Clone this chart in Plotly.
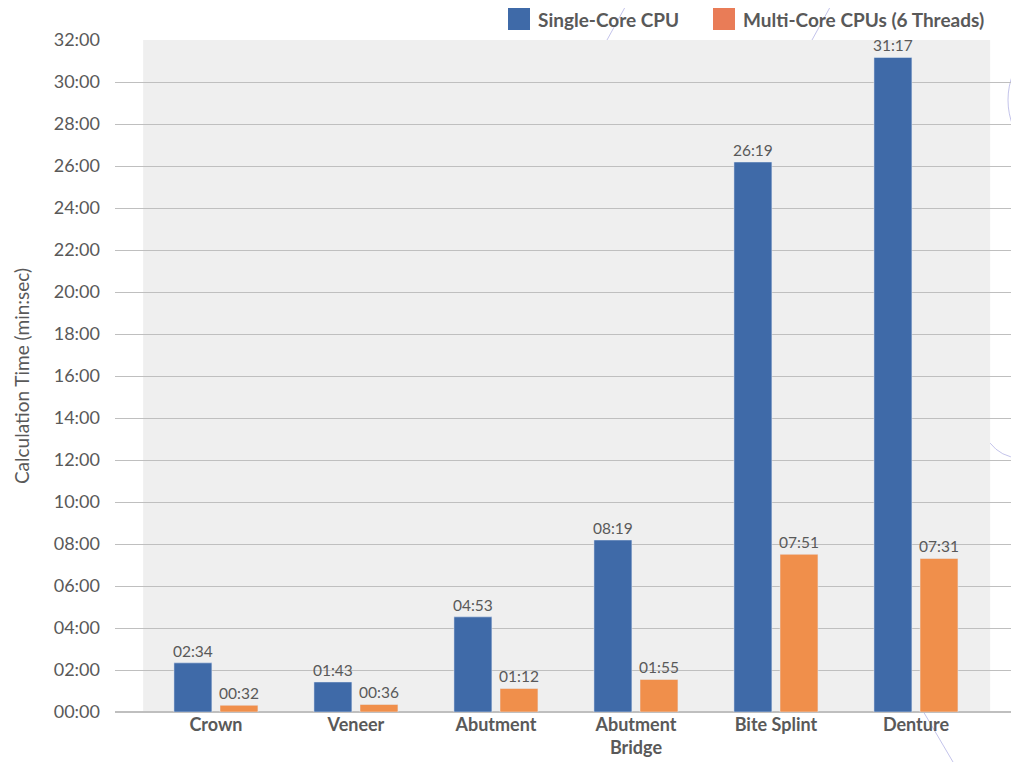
import plotly.graph_objects as go

categories = ["Crown", "Veneer", "Abutment", "Abutment<br>Bridge", "Bite Splint", "Denture"]
single_core = [2.34, 1.43, 4.53, 8.19, 26.19, 31.17]
multi_core = [0.32, 0.36, 1.12, 1.55, 7.51, 7.31]
single_labels = ["02:34", "01:43", "04:53", "08:19", "26:19", "31:17"]
multi_labels = ["00:32", "00:36", "01:12", "01:55", "07:51", "07:31"]
tick_vals = [0, 2, 4, 6, 8, 10, 12, 14, 16, 18, 20, 22, 24, 26, 28, 30, 32]
tick_text = ["00:00", "02:00", "04:00", "06:00", "08:00", "10:00", "12:00", "14:00",
             "16:00", "18:00", "20:00", "22:00", "24:00", "26:00", "28:00", "30:00", "32:00"]
series_names = ["Single-Core CPU", "Multi-Core CPUs (6 Threads)"]

BLUE = "#3F6AA8"
ORANGE = "#F08F4B"
LEG_ORANGE = "#E97C57"
TXT = "#595959"
FONT = "Lato"

# page-pixel -> paper helpers (plot area: x 115..1019, y 40..712 on the page)
def px(x):
    return (x - 115) / 904

def py(y):
    return (712 - y) / 672

fig = go.Figure()
fig.add_trace(go.Bar(
    x=categories, y=single_core, name=series_names[0], marker_color=BLUE,
    width=0.271, offset=-0.3, text=single_labels, textposition="outside",
    constraintext="none", cliponaxis=False,
    textfont=dict(size=15.5, color=TXT, family=FONT),
))
fig.add_trace(go.Bar(
    x=categories, y=multi_core, name=series_names[1], marker_color=ORANGE,
    width=0.271, offset=0.029, text=multi_labels, textposition="outside",
    constraintext="none", cliponaxis=False,
    textfont=dict(size=15.5, color=TXT, family=FONT),
))

# gray plot background panel
fig.add_shape(type="rect", xref="x", yref="y", x0=-0.52, x1=5.53, y0=0, y1=32,
              fillcolor="#EFEFEF", line_width=0, layer="below")

# decorative light lines
deco = "rgba(185,185,230,0.85)"
for (xa, ya, xb, yb) in [(629, 0, 607, 40), (834, 0, 812, 40), (923, 711, 953, 762)]:
    fig.add_shape(type="line", xref="paper", yref="paper", x0=px(xa), y0=py(ya),
                  x1=px(xb), y1=py(yb), line=dict(color=deco, width=1), layer="below")
fig.add_shape(type="circle", xref="paper", yref="paper",
              x0=px(1008), x1=px(1150), y0=py(171), y1=py(29),
              line=dict(color=deco, width=1), layer="below")
fig.add_shape(type="path", xref="paper", yref="paper",
              path="M %f,%f Q %f,%f %f,%f" % (px(990), py(443), px(1001), py(457), px(1019), py(458)),
              line=dict(color=deco, width=1), layer="below")

# legend (manual)
for xs, col, name in [(508, BLUE, series_names[0]), (713, LEG_ORANGE, series_names[1])]:
    fig.add_shape(type="rect", xref="paper", yref="paper",
                  x0=px(xs), x1=px(xs + 22), y0=py(30), y1=py(8),
                  fillcolor=col, line_width=0)
    fig.add_annotation(xref="paper", yref="paper", x=px(xs + 28), y=py(19),
                       text="<b>%s</b>" % name, showarrow=False, xanchor="left",
                       yanchor="middle", font=dict(size=19, color=TXT, family=FONT))

fig.update_layout(
    width=1011, height=754,
    margin=dict(l=107, r=0, t=32, b=50),
    paper_bgcolor="white", plot_bgcolor="white",
    showlegend=False,
    barmode="group",
    font=dict(family=FONT, color=TXT),
)
fig.update_xaxes(
    range=[-0.721, 5.736], showgrid=False, tickfont=dict(size=18, color=TXT, family=FONT),
    tickprefix="<b>", ticksuffix="</b>", ticks="", showline=False, zeroline=False,
)
fig.update_yaxes(
    range=[0, 32], tickvals=tick_vals, ticktext=tick_text, showgrid=True,
    gridcolor="#BFBFBF", gridwidth=1, zeroline=True, zerolinecolor="#BFBFBF",
    tickfont=dict(size=18, color=TXT, family=FONT), ticks="", ticklabelstandoff=14,
    title=dict(text="Calculation Time (min:sec)", font=dict(size=19, color=TXT, family=FONT),
               standoff=19),
)

fig.write_html("out.html")
